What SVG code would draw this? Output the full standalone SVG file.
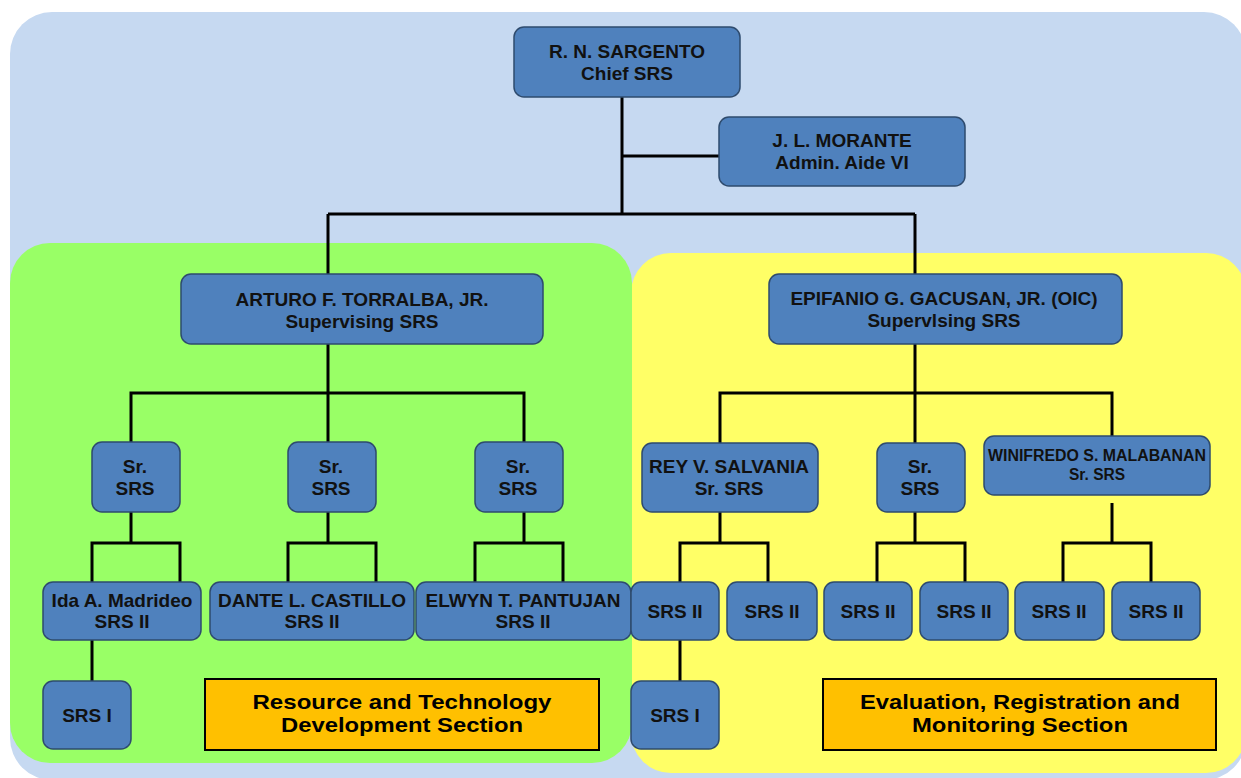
<svg xmlns="http://www.w3.org/2000/svg" width="1241" height="778" viewBox="0 0 1241 778">
  <style>
    .node rect { fill: #4F81BD; stroke: #2E4B6E; stroke-width: 1.5; }
    .node text { font-family: "Liberation Sans", Arial, sans-serif; font-weight: bold; font-size: 19px; fill: #111; text-anchor: middle; }
    .node text.small { font-size: 16px; }
    .label rect { fill: #FFC000; stroke: #000; stroke-width: 2; }
    .label text { font-family: "Liberation Sans", Arial, sans-serif; font-weight: bold; font-size: 21px; fill: #000; text-anchor: middle; }
    #connectors path { fill: none; stroke: #000; stroke-width: 3; stroke-linejoin: miter; }
  </style>

  <!-- backdrop and section panels -->
  <rect width="1241" height="778" fill="#FFFFFF"/>
  <rect x="10" y="12" width="1236" height="768" rx="42" fill="#C6D9F1"/>
  <rect x="631" y="253" width="615" height="520" rx="40" fill="#FFFF66"/>
  <rect x="10" y="243" width="622" height="520" rx="40" fill="#99FF66"/>

  <g id="connectors">
    <path d="M622 97 V214 M622 156 H719 M328 214 H915 M328 214 V274 M915 214 V274"/>
    <path d="M328 344 V442 M131 442 V393 H524 V442"/>
    <path d="M915 344 V443 M720 443 V393 H1112 V436"/>
    <path d="M131 512 V543 M92 582 V543 H180 V582"/>
    <path d="M328 512 V543 M288 582 V543 H376 V582"/>
    <path d="M524 512 V543 M475 582 V543 H563 V582"/>
    <path d="M720 512 V543 M680 582 V543 H768 V582"/>
    <path d="M915 512 V543 M877 582 V543 H965 V582"/>
    <path d="M1112 503 V543 M1063 582 V543 H1151 V582"/>
    <path d="M92 640 V681 M680 640 V681"/>
  </g>

  <g id="sargento" class="node">
    <rect x="514" y="27" width="226" height="70" rx="10"/>
    <text x="627" y="58">R. N. SARGENTO</text>
    <text x="627" y="80">Chief SRS</text>
  </g>
  <g id="morante" class="node">
    <rect x="719" y="117" width="246" height="69" rx="10"/>
    <text x="842" y="147">J. L. MORANTE</text>
    <text x="842" y="169">Admin. Aide VI</text>
  </g>

  <g id="torralba" class="node">
    <rect x="181" y="274" width="362" height="70" rx="10"/>
    <text x="362" y="306">ARTURO F. TORRALBA, JR.</text>
    <text x="362" y="328">Supervising SRS</text>
  </g>
  <g id="gacusan" class="node">
    <rect x="769" y="274" width="353" height="70" rx="10"/>
    <text x="944" y="305">EPIFANIO G. GACUSAN, JR. (OIC)</text>
    <text x="944" y="327">Supervlsing SRS</text>
  </g>

  <g id="sr-srs-1" class="node">
    <rect x="92" y="442" width="88" height="70" rx="10"/>
    <text x="135" y="473">Sr.</text>
    <text x="135" y="495">SRS</text>
  </g>
  <g id="sr-srs-2" class="node">
    <rect x="288" y="442" width="88" height="70" rx="10"/>
    <text x="331" y="473">Sr.</text>
    <text x="331" y="495">SRS</text>
  </g>
  <g id="sr-srs-3" class="node">
    <rect x="475" y="442" width="88" height="70" rx="10"/>
    <text x="518" y="473">Sr.</text>
    <text x="518" y="495">SRS</text>
  </g>
  <g id="salvania" class="node">
    <rect x="642" y="443" width="176" height="69" rx="10"/>
    <text x="729" y="473">REY V. SALVANIA</text>
    <text x="729" y="495">Sr. SRS</text>
  </g>
  <g id="sr-srs-4" class="node">
    <rect x="877" y="443" width="88" height="69" rx="10"/>
    <text x="920" y="473">Sr.</text>
    <text x="920" y="495">SRS</text>
  </g>
  <g id="malabanan" class="node">
    <rect x="984" y="436" width="226" height="59" rx="10"/>
    <text class="small" x="1097" y="461" textLength="218" lengthAdjust="spacingAndGlyphs">WINIFREDO  S. MALABANAN</text>
    <text class="small" x="1097" y="480" textLength="56" lengthAdjust="spacingAndGlyphs">Sr. SRS</text>
  </g>

  <g id="madrideo" class="node">
    <rect x="43" y="582" width="158" height="58" rx="10"/>
    <text x="122" y="607">Ida A. Madrideo</text>
    <text x="122" y="628">SRS II</text>
  </g>
  <g id="castillo" class="node">
    <rect x="210" y="582" width="204" height="58" rx="10"/>
    <text x="312" y="607">DANTE L. CASTILLO</text>
    <text x="312" y="628">SRS II</text>
  </g>
  <g id="pantujan" class="node">
    <rect x="416" y="582" width="215" height="58" rx="10"/>
    <text x="523" y="607">ELWYN T. PANTUJAN</text>
    <text x="523" y="628">SRS II</text>
  </g>
  <g id="srs2-a" class="node">
    <rect x="631" y="582" width="88" height="58" rx="10"/>
    <text x="675" y="618">SRS II</text>
  </g>
  <g id="srs2-b" class="node">
    <rect x="727" y="582" width="90" height="58" rx="10"/>
    <text x="772" y="618">SRS II</text>
  </g>
  <g id="srs2-c" class="node">
    <rect x="824" y="582" width="88" height="58" rx="10"/>
    <text x="868" y="618">SRS II</text>
  </g>
  <g id="srs2-d" class="node">
    <rect x="920" y="582" width="88" height="58" rx="10"/>
    <text x="964" y="618">SRS II</text>
  </g>
  <g id="srs2-e" class="node">
    <rect x="1015" y="582" width="89" height="58" rx="10"/>
    <text x="1059" y="618">SRS II</text>
  </g>
  <g id="srs2-f" class="node">
    <rect x="1112" y="582" width="88" height="58" rx="10"/>
    <text x="1156" y="618">SRS II</text>
  </g>

  <g id="srs1-a" class="node">
    <rect x="43" y="681" width="88" height="68" rx="10"/>
    <text x="87" y="722">SRS I</text>
  </g>
  <g id="srs1-b" class="node">
    <rect x="631" y="681" width="88" height="68" rx="10"/>
    <text x="675" y="722">SRS I</text>
  </g>

  <g id="rtd-section" class="label">
    <rect x="205" y="679" width="394" height="71"/>
    <text x="402" y="709" textLength="299" lengthAdjust="spacingAndGlyphs">Resource and Technology</text>
    <text x="402" y="732" textLength="242" lengthAdjust="spacingAndGlyphs">Development Section</text>
  </g>
  <g id="erm-section" class="label">
    <rect x="823" y="679" width="393" height="71"/>
    <text x="1020" y="709" textLength="320" lengthAdjust="spacingAndGlyphs">Evaluation, Registration and</text>
    <text x="1020" y="732" textLength="216" lengthAdjust="spacingAndGlyphs">Monitoring Section</text>
  </g>
</svg>
